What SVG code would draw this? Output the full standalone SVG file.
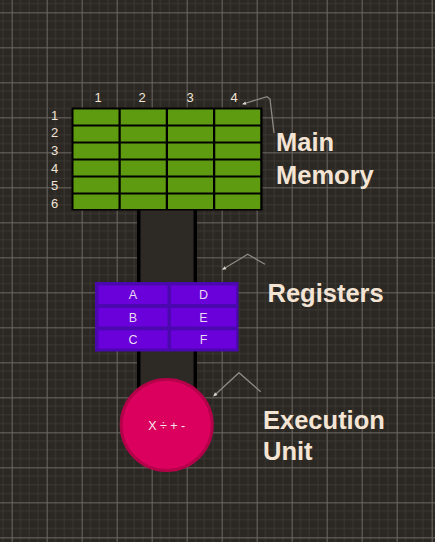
<svg xmlns="http://www.w3.org/2000/svg" width="435" height="542" viewBox="0 0 435 542">
<defs>
<pattern id="grid" patternUnits="userSpaceOnUse" x="11.67" y="12.33" width="35" height="35">
<rect width="35" height="35" fill="#2b2824"/>
<path d="M8.75 0V35M17.5 0V35M26.25 0V35M0 8.75H35M0 17.5H35M0 26.25H35" stroke="#3b3833" stroke-width="1"/>
<path d="M0.5 0V35M0 0.5H35" stroke="#6d6761" stroke-width="1"/>
</pattern>
<marker id="tip" markerWidth="6" markerHeight="6" refX="1" refY="3" orient="auto" markerUnits="userSpaceOnUse">
<path d="M0 1.2L4 3L0 4.8Z" fill="#ddd5cc" transform="rotate(180 2 3)"/>
</marker>
<style>
.num{font-family:"Liberation Sans",Arial,sans-serif;font-size:13px;fill:#f2e4d6;text-anchor:middle}
.cell{fill:#5f9b11}
.reg{fill:#6a00da}
.rl{font-family:"Liberation Sans",Arial,sans-serif;font-size:12.5px;fill:#ead9f2;text-anchor:middle}
.big{font-family:"Liberation Sans",Arial,sans-serif;font-size:25.5px;font-weight:bold;fill:#f4e4d4}
.ann{fill:none;stroke:#8e8882;stroke-width:1.3;marker-start:url(#tip)}
</style>
</defs>
<rect width="435" height="542" fill="url(#grid)"/>

<g id="bus">
<rect x="137" y="209" width="60" height="190" fill="#000"/>
<rect x="140.5" y="209" width="53" height="190" fill="#2d2a26"/>
</g>

<g id="main-memory">
<rect x="71.5" y="107.5" width="191" height="103" fill="#000"/>
<g>
<rect class="cell" x="73.5" y="109.5" width="45" height="15"/><rect class="cell" x="120.75" y="109.5" width="45" height="15"/><rect class="cell" x="168" y="109.5" width="45" height="15"/><rect class="cell" x="215.25" y="109.5" width="45" height="15"/>
<rect class="cell" x="73.5" y="126.5" width="45" height="15"/><rect class="cell" x="120.75" y="126.5" width="45" height="15"/><rect class="cell" x="168" y="126.5" width="45" height="15"/><rect class="cell" x="215.25" y="126.5" width="45" height="15"/>
<rect class="cell" x="73.5" y="143.5" width="45" height="15"/><rect class="cell" x="120.75" y="143.5" width="45" height="15"/><rect class="cell" x="168" y="143.5" width="45" height="15"/><rect class="cell" x="215.25" y="143.5" width="45" height="15"/>
<rect class="cell" x="73.5" y="160.5" width="45" height="15"/><rect class="cell" x="120.75" y="160.5" width="45" height="15"/><rect class="cell" x="168" y="160.5" width="45" height="15"/><rect class="cell" x="215.25" y="160.5" width="45" height="15"/>
<rect class="cell" x="73.5" y="177.5" width="45" height="15"/><rect class="cell" x="120.75" y="177.5" width="45" height="15"/><rect class="cell" x="168" y="177.5" width="45" height="15"/><rect class="cell" x="215.25" y="177.5" width="45" height="15"/>
<rect class="cell" x="73.5" y="194.5" width="45" height="14.5"/><rect class="cell" x="120.75" y="194.5" width="45" height="14.5"/><rect class="cell" x="168" y="194.5" width="45" height="14.5"/><rect class="cell" x="215.25" y="194.5" width="45" height="14.5"/>
</g>
<text class="num" x="98" y="102">1</text>
<text class="num" x="142" y="102">2</text>
<text class="num" x="190" y="102">3</text>
<text class="num" x="234" y="102">4</text>
<text class="num" x="54.5" y="119.5">1</text>
<text class="num" x="54.5" y="137">2</text>
<text class="num" x="54.5" y="155">3</text>
<text class="num" x="54.5" y="172.5">4</text>
<text class="num" x="54.5" y="190">5</text>
<text class="num" x="54.5" y="207.5">6</text>
<text class="big" x="276" y="150.7">Main</text>
<text class="big" x="276" y="183.5">Memory</text>
</g>

<g id="registers">
<rect x="95" y="282" width="143.5" height="69.5" fill="#4a08ae"/>
<rect class="reg" x="98.5" y="285.5" width="69" height="18.5"/><rect class="reg" x="171" y="285.5" width="65" height="18.5"/>
<rect class="reg" x="98.5" y="308" width="69" height="18.5"/><rect class="reg" x="171" y="308" width="65" height="18.5"/>
<rect class="reg" x="98.5" y="330.3" width="69" height="18.3"/><rect class="reg" x="171" y="330.3" width="65" height="18.3"/>
<text class="rl" x="133" y="299">A</text>
<text class="rl" x="203.5" y="299">D</text>
<text class="rl" x="133" y="321.5">B</text>
<text class="rl" x="203.5" y="321.5">E</text>
<text class="rl" x="133" y="343.5">C</text>
<text class="rl" x="203.5" y="343.5">F</text>
<text class="big" x="267.5" y="301.7">Registers</text>
</g>

<g id="execution-unit">
<circle cx="166.7" cy="425" r="45.5" fill="#dc005e" stroke="#b5004a" stroke-width="3"/>
<text x="166.7" y="429.5" font-family="Liberation Sans,Arial,sans-serif" font-size="12.5" fill="#f6e6ea" text-anchor="middle">X ÷ + -</text>
<text class="big" x="263" y="429">Execution</text>
<text class="big" x="263" y="459.5">Unit</text>
</g>

<g id="connectors">
<polyline class="ann" points="243,104 267,96.7 270,99 274,133"/>
<polyline class="ann" points="223,269.3 247.7,254.3 265,264.3"/>
<polyline class="ann" points="214,395.7 239,372.7 260.7,391.7"/>
</g>
</svg>
